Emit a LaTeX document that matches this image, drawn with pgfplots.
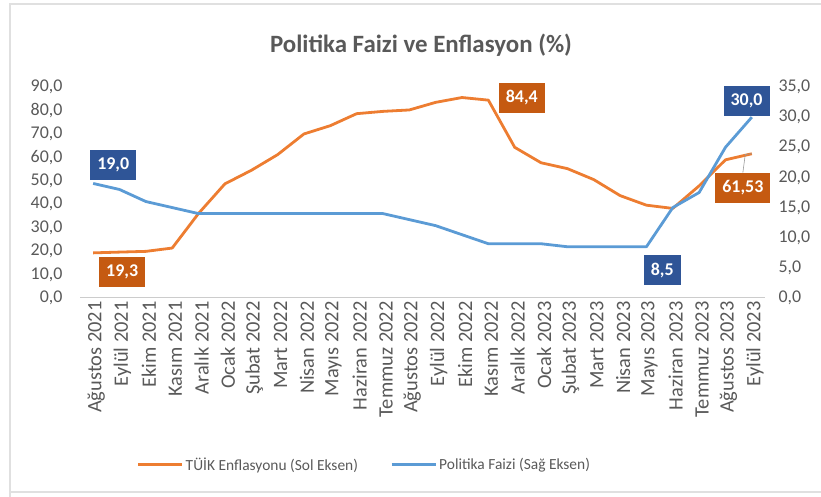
\documentclass[border=0pt]{standalone}
\usepackage{fontspec}
\setmainfont{Carlito}
\usepackage{pgfplots}
\pgfplotsset{compat=1.18}
\definecolor{ora}{HTML}{ED7D31}
\definecolor{blu}{HTML}{5B9BD5}
\definecolor{oradk}{HTML}{C55A11}
\definecolor{bludk}{HTML}{2F5597}
\definecolor{txt}{HTML}{595959}

\tikzset{lab/.style={font=\bfseries\fontsize{18}{20}\selectfont, text=white, inner xsep=7bp, inner ysep=6bp, minimum height=30bp}}
\pgfplotsset{
  common/.style={
    scale only axis, width=685bp, height=211bp,
    at={(80bp,199bp)}, anchor=south west,
    xmin=-0.5, xmax=25.5,
    /pgf/number format/.cd, fixed, fixed zerofill, precision=1, use comma, assume math mode=true,
    /pgfplots/.cd,
    ticklabel style={text=txt},
    tick style={draw=none},
    clip=false,
  },
}

\begin{document}
\begin{tikzpicture}
\useasboundingbox (0bp,0bp) rectangle (821bp,497bp);
\draw[black!12, line width=2bp] (10bp,0bp) -- (10bp,493bp) -- (821bp,493bp);
\draw[black!12, line width=1.5bp] (10bp,5bp) -- (821bp,5bp);
\node[font=\bfseries\fontsize{25}{28}\selectfont, text=txt] at (421bp,452bp) {Politika Faizi ve Enflasyon (\%)};

\begin{axis}[common,
  ymin=0, ymax=90, ytick={0,10,...,90},
  axis x line*=bottom, axis y line*=left,
  y axis line style={draw=none},
  x axis line style={black!20, line width=1bp, -},
  yticklabel style={font=\fontsize{18}{20}\selectfont, xshift=-14bp},
  xtick={0,...,25},
  xticklabels={Ağustos 2021,Eylül 2021,Ekim 2021,Kasım 2021,Aralık 2021,Ocak 2022,Şubat 2022,Mart 2022,Nisan 2022,Mayıs 2022,Haziran 2022,Temmuz 2022,Ağustos 2022,Eylül 2022,Ekim 2022,Kasım 2022,Aralık 2022,Ocak 2023,Şubat 2023,Mart 2023,Nisan 2023,Mayıs 2023,Haziran 2023,Temmuz 2023,Ağustos 2023,Eylül 2023},
  xticklabel style={rotate=90, anchor=east, font=\fontsize{20.5}{22}\selectfont, yshift=-3bp},
]
\addplot[ora, line width=2.8bp, line join=round] coordinates {
(0,19.25) (1,19.58) (2,19.89) (3,21.31) (4,36.08) (5,48.69) (6,54.44) (7,61.14) (8,69.97) (9,73.50) (10,78.62) (11,79.60) (12,80.21) (13,83.45) (14,85.51) (15,84.39) (16,64.27) (17,57.68) (18,55.18) (19,50.51) (20,43.68) (21,39.59) (22,38.21) (23,47.83) (24,58.94) (25,61.53)};
\draw[black!40, line width=0.6bp] (axis cs:24.66,53.5) -- (axis cs:24.75,61.2) -- (axis cs:25,61.53);
\node[lab, fill=oradk] at (axis cs:1.1,11.1) {19,3};
\node[lab, fill=oradk] at (axis cs:16.27,85.3) {84,4};
\node[lab, fill=oradk] at (axis cs:24.66,46.9) {61,53};
\end{axis}

\begin{axis}[common,
  ymin=0, ymax=35, ytick={0,5,...,35},
  axis x line=none, axis y line*=right,
  y axis line style={draw=none},
  yticklabel style={font=\fontsize{18}{20}\selectfont, xshift=10bp},
  legend style={at={(0.415,-0.79)}, anchor=center, draw=none, fill=none, legend columns=2,
    font=\fontsize{15.5}{17}\selectfont, text=txt,
    /tikz/every even column/.append style={column sep=30bp}},
  legend image code/.code={\draw[#1] (0bp,0bp) -- (44bp,0bp);},
]
\addlegendimage{ora, line width=3.2bp}
\addlegendentry{TÜİK Enflasyonu (Sol Eksen)}
\addplot[blu, line width=2.8bp, line join=round, forget plot] coordinates {
(0,19) (1,18) (2,16) (3,15) (4,14) (5,14) (6,14) (7,14) (8,14) (9,14) (10,14) (11,14) (12,13) (13,12) (14,10.5) (15,9) (16,9) (17,9) (18,8.5) (19,8.5) (20,8.5) (21,8.5) (22,15) (23,17.5) (24,25) (25,30)};
\addlegendimage{blu, line width=3.2bp}
\addlegendentry{Politika Faizi (Sağ Eksen)}
\node[lab, fill=bludk] at (axis cs:0.76,22.05) {19,0};
\node[lab, fill=bludk] at (axis cs:21.6,4.6) {8,5};
\node[lab, fill=bludk] at (axis cs:24.8,32.7) {30,0};
\end{axis}
\end{tikzpicture}
\end{document}
